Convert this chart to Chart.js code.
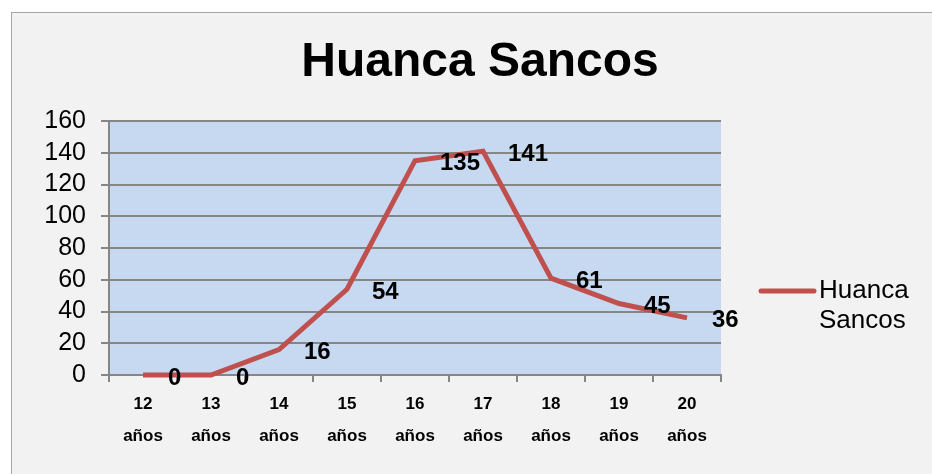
<!DOCTYPE html>
<html>
<head>
<meta charset="utf-8">
<script src="https://cdn.jsdelivr.net/npm/chart.js@4"></script>
<style>
    html, body { margin: 0; padding: 0; background: #ffffff; }
    #wrap { width: 932px; height: 474px; }
</style>
</head>
<body>
<div id="wrap"><canvas id="edadChart" width="932" height="474"></canvas></div>
<script>
const categorias = [['12', 'años'], ['13', 'años'], ['14', 'años'], ['15', 'años'], ['16', 'años'],
    ['17', 'años'], ['18', 'años'], ['19', 'años'], ['20', 'años']];
const huancaSancos = [0, 0, 16, 54, 135, 141, 61, 45, 36];
const titulo = 'Huanca Sancos';
const serieNombre = ['Huanca', 'Sancos'];

const FONT = '"Liberation Sans", Arial, sans-serif';
const GRIS = '#868686';
const ROJO = '#C0504D';

// fondo del gráfico, área de trazado y título
const fondoPlugin = {
    id: 'fondo',
    beforeDraw(chart) {
        const { ctx, chartArea } = chart;
        ctx.save();
        ctx.fillStyle = '#ffffff';
        ctx.fillRect(0, 0, chart.width, chart.height);
        ctx.fillStyle = '#F2F2F2';
        ctx.fillRect(11, 12, chart.width, chart.height);
        ctx.strokeStyle = '#A6A6A6';
        ctx.lineWidth = 1;
        ctx.strokeRect(11.5, 12.5, chart.width + 10, chart.height + 10);
        ctx.fillStyle = '#C6D9F1';
        ctx.fillRect(chartArea.left, chartArea.top, chartArea.right - chartArea.left, chartArea.bottom - chartArea.top);

        ctx.fillStyle = '#000000';
        ctx.font = 'bold 48px ' + FONT;
        ctx.textAlign = 'center';
        ctx.textBaseline = 'middle';
        ctx.fillText(titulo, 480, 63);
        ctx.restore();
    }
};

// etiquetas de datos y leyenda
const etiquetasPlugin = {
    id: 'etiquetas',
    afterDatasetsDraw(chart) {
        const { ctx } = chart;
        const meta = chart.getDatasetMeta(0);
        ctx.save();
        ctx.fillStyle = '#000000';
        ctx.font = 'bold 24px ' + FONT;
        ctx.textAlign = 'left';
        ctx.textBaseline = 'middle';
        meta.data.forEach((pt, i) => {
            ctx.fillText(String(huancaSancos[i]), pt.x + 25, pt.y + 3);
        });

        ctx.strokeStyle = ROJO;
        ctx.lineWidth = 5;
        ctx.lineCap = 'round';
        ctx.beginPath();
        ctx.moveTo(761, 291);
        ctx.lineTo(814, 291);
        ctx.stroke();
        ctx.font = '26px ' + FONT;
        ctx.fillText(serieNombre[0], 819, 291);
        ctx.fillText(serieNombre[1], 819, 321);
        ctx.restore();
    }
};

new Chart(document.getElementById('edadChart'), {
    type: 'line',
    data: {
        labels: categorias,
        datasets: [{
            label: serieNombre.join(' '),
            data: huancaSancos,
            borderColor: ROJO,
            backgroundColor: ROJO,
            borderWidth: 5,
            tension: 0,
            pointRadius: 0,
            clip: 8
        }]
    },
    options: {
        responsive: false,
        animation: false,
        devicePixelRatio: 1,
        layout: { padding: { left: 0, top: 121, right: 211, bottom: 0 } },
        plugins: {
            legend: { display: false },
            title: { display: false },
            tooltip: { enabled: false }
        },
        scales: {
            x: {
                offset: true,
                afterFit(scale) { scale.height = 99; },
                grid: { display: true, drawOnChartArea: false, offset: true, tickLength: 7, color: GRIS, lineWidth: 2 },
                border: { display: true, color: GRIS, width: 2 },
                ticks: {
                    color: '#000000',
                    padding: 6,
                    maxRotation: 0,
                    autoSkip: false,
                    font: { family: FONT, size: 17, weight: 'bold', lineHeight: 1.88 }
                }
            },
            y: {
                min: 0,
                max: 160,
                afterFit(scale) { scale.width = 109; },
                grid: { color: GRIS, lineWidth: 2, tickLength: 8 },
                border: { display: true, color: GRIS, width: 2 },
                ticks: {
                    stepSize: 20,
                    autoSkip: false,
                    color: '#000000',
                    padding: 15,
                    font: { family: FONT, size: 25 }
                }
            }
        }
    },
    plugins: [fondoPlugin, etiquetasPlugin]
});
</script>
</body>
</html>
